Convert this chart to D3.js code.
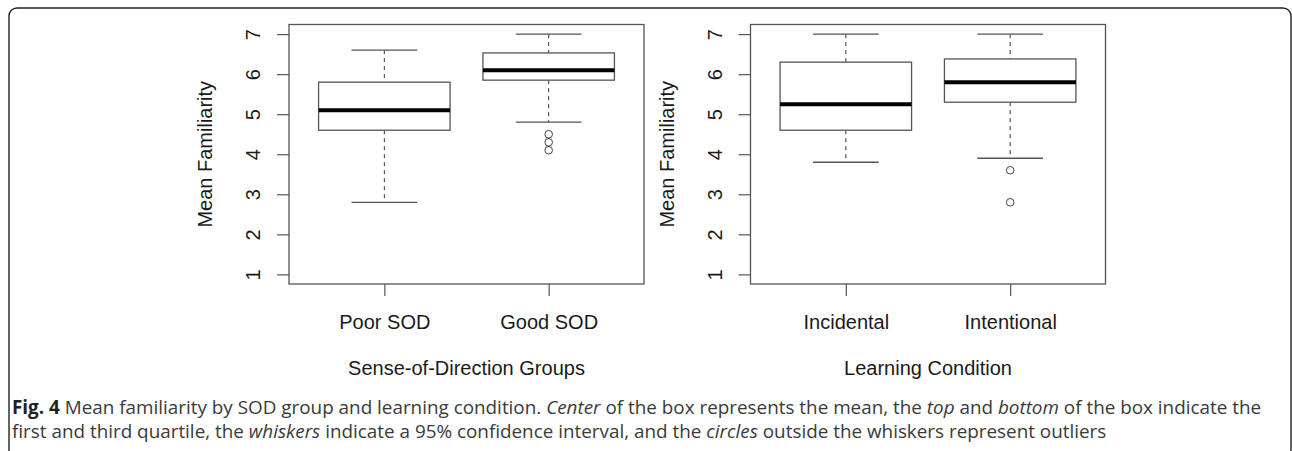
<!DOCTYPE html>
<html>
<head>
<meta charset="utf-8">
<script src="https://cdn.jsdelivr.net/npm/d3@7/dist/d3.min.js"></script>
<style>
  html, body { margin: 0; padding: 0; background: #fff; }
  svg { display: block; }
</style>
</head>
<body>
<svg id="fig" width="1292" height="451"></svg>
<script>
// --- data -----------------------------------------------------------------
const yTicks = [1, 2, 3, 4, 5, 6, 7];

const sodGroups   = ['Poor SOD', 'Good SOD'];
const sodLow      = [2.8, 4.8];
const sodQ1       = [4.6, 5.85];
const sodMedian   = [5.1, 6.1];
const sodQ3       = [5.8, 6.53];
const sodHigh     = [6.6, 7.0];
const sodOutliers = [[], [4.5, 4.3, 4.1]];

const condGroups   = ['Incidental', 'Intentional'];
const condLow      = [3.8, 3.9];
const condQ1       = [4.6, 5.3];
const condMedian   = [5.25, 5.8];
const condQ3       = [6.3, 6.38];
const condHigh     = [7.0, 7.0];
const condOutliers = [[], [3.6, 2.8]];

const captionLines = [
  [['b', 'Fig. 4'], ['', ' Mean familiarity by SOD group and learning condition. '], ['i', 'Center'],
   ['', ' of the box represents the mean, the '], ['i', 'top'], ['', ' and '], ['i', 'bottom'],
   ['', ' of the box indicate the']],
  [['', 'first and third quartile, the '], ['i', 'whiskers'],
   ['', ' indicate a 95% confidence interval, and the '], ['i', 'circles'],
   ['', ' outside the whiskers represent outliers']]
];

// --- layout ---------------------------------------------------------------
const svg = d3.select('#fig');
const AX_FONT = "'Liberation Sans', Arial, Helvetica, sans-serif";
const INK = '#1a1a1a';
const FRAME = '#555';

// figure frame (rounded, cut off at the bottom)
svg.append('rect')
  .attr('x', 9).attr('y', 8).attr('width', 1282).attr('height', 450)
  .attr('rx', 8).attr('fill', 'none').attr('stroke', '#222').attr('stroke-width', 1.4);

function boxPanel(left, groups, low, q1, med, q3, high, outl, xTitle) {
  const top = 24.5, bottom = 284, right = left + 355;
  const n = groups.length;
  // R style: xlim 0.5..n+0.5 extended by 4%
  const x = d3.scaleLinear().domain([0.5 - 0.04 * n, n + 0.5 + 0.04 * n]).range([left, right]);
  const y = d3.scaleLinear().domain([1 - 0.24, 7 + 0.24]).range([bottom, top]);
  const g = svg.append('g');
  const half = x(1.4) - x(1);         // boxwex 0.8 -> half width 0.4
  const cap = half / 2;               // staplewex 0.5

  // y axis
  const yAx = g.append('g').attr('transform', `translate(${left},0)`)
    .call(d3.axisLeft(y).tickValues(yTicks).tickSize(12).tickPadding(0).tickFormat(d3.format('d')));
  yAx.select('.domain').remove();
  yAx.selectAll('.tick line').attr('stroke', FRAME).attr('stroke-width', 1.2);
  yAx.selectAll('.tick text')
    .attr('transform', 'rotate(-90)')
    .attr('x', 0).attr('y', -34).attr('dy', 0)
    .attr('text-anchor', 'middle').attr('dominant-baseline', 'middle')
    .attr('font-family', AX_FONT).attr('font-size', 20).attr('fill', INK);

  // x axis
  const xAx = g.append('g').attr('transform', `translate(0,${bottom})`)
    .call(d3.axisBottom(x).tickValues(d3.range(1, n + 1)).tickSize(12).tickPadding(0)
      .tickFormat((d) => groups[d - 1]));
  xAx.select('.domain').remove();
  xAx.selectAll('.tick line').attr('stroke', FRAME).attr('stroke-width', 1.2);
  xAx.selectAll('.tick text')
    .attr('y', 45).attr('dy', 0)
    .attr('font-family', AX_FONT).attr('font-size', 20).attr('fill', INK);

  // plot frame
  g.append('rect').attr('x', left).attr('y', top).attr('width', right - left).attr('height', bottom - top)
    .attr('fill', 'none').attr('stroke', FRAME).attr('stroke-width', 1.3);

  // titles
  g.append('text').attr('transform', `translate(${left - 82},${(top + bottom) / 2}) rotate(-90)`)
    .attr('text-anchor', 'middle').attr('dominant-baseline', 'middle')
    .attr('font-family', AX_FONT).attr('font-size', 20).attr('fill', INK).text('Mean Familiarity');
  g.append('text').attr('x', (left + right) / 2).attr('y', 375)
    .attr('text-anchor', 'middle')
    .attr('font-family', AX_FONT).attr('font-size', 20).attr('fill', INK).text(xTitle);

  // boxes
  const idx = d3.range(n);
  const b = g.selectAll('g.box').data(idx).join('g').attr('class', 'box');
  b.append('line').attr('x1', (i) => x(i + 1)).attr('x2', (i) => x(i + 1))
    .attr('y1', (i) => y(high[i])).attr('y2', (i) => y(q3[i]))
    .attr('stroke', '#333').attr('stroke-width', 1).attr('stroke-dasharray', '4,4');
  b.append('line').attr('x1', (i) => x(i + 1)).attr('x2', (i) => x(i + 1))
    .attr('y1', (i) => y(q1[i])).attr('y2', (i) => y(low[i]))
    .attr('stroke', '#333').attr('stroke-width', 1).attr('stroke-dasharray', '4,4');
  b.append('line').attr('x1', (i) => x(i + 1) - cap).attr('x2', (i) => x(i + 1) + cap)
    .attr('y1', (i) => y(high[i])).attr('y2', (i) => y(high[i]))
    .attr('stroke', FRAME).attr('stroke-width', 1.3);
  b.append('line').attr('x1', (i) => x(i + 1) - cap).attr('x2', (i) => x(i + 1) + cap)
    .attr('y1', (i) => y(low[i])).attr('y2', (i) => y(low[i]))
    .attr('stroke', FRAME).attr('stroke-width', 1.3);
  b.append('rect').attr('x', (i) => x(i + 1) - half).attr('width', 2 * half)
    .attr('y', (i) => y(q3[i])).attr('height', (i) => y(q1[i]) - y(q3[i]))
    .attr('fill', '#fff').attr('stroke', FRAME).attr('stroke-width', 1.3);
  b.append('line').attr('x1', (i) => x(i + 1) - half).attr('x2', (i) => x(i + 1) + half)
    .attr('y1', (i) => y(med[i])).attr('y2', (i) => y(med[i]))
    .attr('stroke', '#000').attr('stroke-width', 4);
  b.selectAll('circle').data((i) => outl[i].map((v) => [i, v])).join('circle')
    .attr('cx', (d) => x(d[0] + 1)).attr('cy', (d) => y(d[1])).attr('r', 3.8)
    .attr('fill', 'none').attr('stroke', '#444').attr('stroke-width', 1);
}

boxPanel(289, sodGroups, sodLow, sodQ1, sodMedian, sodQ3, sodHigh, sodOutliers, 'Sense-of-Direction Groups');
boxPanel(750.5, condGroups, condLow, condQ1, condMedian, condQ3, condHigh, condOutliers, 'Learning Condition');

// caption: size chosen so the first line spans the figure width like the original
const CAP_FONT = "'Open Sans', 'Noto Sans', sans-serif";
const capTexts = captionLines.map((runs, li) => {
  const t = svg.append('text').attr('x', 12).attr('y', 414 + li * 24)
    .attr('font-family', CAP_FONT).attr('font-size', 16).attr('fill', '#3a3a3a');
  runs.forEach(([style, s]) => {
    t.append('tspan')
      .attr('font-weight', style === 'b' ? 700 : 400)
      .attr('font-style', style === 'i' ? 'italic' : 'normal')
      .attr('fill', style === 'b' ? '#222' : null)
      .text(s);
  });
  return t;
});
const w0 = capTexts[0].node().getComputedTextLength();
const capSize = Math.min(20, 16 * 1250 / w0);
capTexts.forEach((t) => t.attr('font-size', capSize));
</script>
</body>
</html>
